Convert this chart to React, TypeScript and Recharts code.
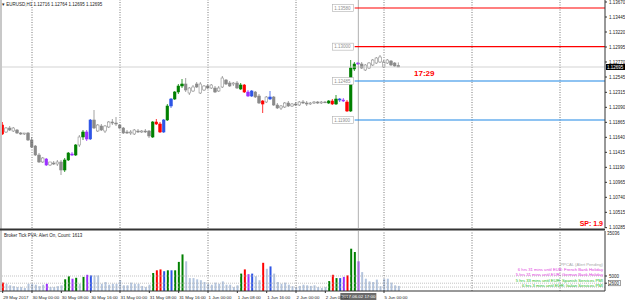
import React from "react";
import { Bar, Cell, ComposedChart, ReferenceLine, XAxis, YAxis } from "recharts";

// bar 0 = 30 May 2017 00:00 (H1), first bar is 29 May 16:00
const firstBar = -8;

const opens = [
  1.11825, 1.1172, 1.1178, 1.11735, 1.1175, 1.11705, 1.1169, 1.11705,
  1.116, 1.1151, 1.11375, 1.1127, 1.11315, 1.11225, 1.11255, 1.1124,
  1.1127, 1.1115, 1.113, 1.11375, 1.11375, 1.11525, 1.11645, 1.1172,
  1.11615, 1.119, 1.11735, 1.1181, 1.11735, 1.11795, 1.1187, 1.11855,
  1.11825, 1.1178, 1.1172, 1.11705, 1.1169, 1.11735, 1.1172, 1.11735,
  1.11735, 1.11645, 1.1187, 1.1184, 1.1172, 1.119, 1.1211, 1.12215,
  1.1232, 1.1241, 1.1244, 1.12305, 1.12335, 1.1244, 1.12305, 1.1235,
  1.1241, 1.1238, 1.1238, 1.12335, 1.12395, 1.125, 1.12455, 1.1244,
  1.12455, 1.12365, 1.12425, 1.1232, 1.1226, 1.1232, 1.1226, 1.12185,
  1.1217, 1.12215, 1.12245, 1.12125, 1.1208, 1.12095, 1.12155, 1.1211,
  1.1214, 1.12125, 1.1217, 1.12155, 1.1214, 1.12155, 1.1217, 1.12155,
  1.1217, 1.12155, 1.12185, 1.1214, 1.122, 1.122, 1.1217, 1.12035,
  1.12665, 1.1274, 1.1274, 1.1265, 1.1268, 1.12725, 1.12755, 1.1277,
  1.12695, 1.12755, 1.12785, 1.12755, 1.12716,
];
const highs = [
  1.1187, 1.11795, 1.1181, 1.11795, 1.11765, 1.1172, 1.11705, 1.1172,
  1.11645, 1.11525, 1.11405, 1.11345, 1.1133, 1.1127, 1.11285, 1.113,
  1.113, 1.1133, 1.1142, 1.1142, 1.1154, 1.11675, 1.1175, 1.1175,
  1.11915, 1.1205, 1.1184, 1.1184, 1.11825, 1.11885, 1.11915, 1.11945,
  1.1184, 1.11795, 1.1175, 1.1175, 1.11765, 1.11765, 1.1175, 1.11765,
  1.1175, 1.11885, 1.11915, 1.1187, 1.11915, 1.1214, 1.1223, 1.12335,
  1.1244, 1.12515, 1.1253, 1.12395, 1.12425, 1.1247, 1.1247, 1.12425,
  1.1244, 1.1244, 1.1241, 1.1241, 1.1256, 1.12515, 1.12485, 1.1247,
  1.12485, 1.12455, 1.1244, 1.1235, 1.1235, 1.12335, 1.1229, 1.122,
  1.1226, 1.12335, 1.1226, 1.12155, 1.12125, 1.1217, 1.12185, 1.12155,
  1.1217, 1.12185, 1.122, 1.12185, 1.1217, 1.12185, 1.12185, 1.12185,
  1.12185, 1.122, 1.12215, 1.12275, 1.1223, 1.1223, 1.122, 1.128,
  1.1277, 1.1277, 1.1277, 1.1274, 1.1277, 1.12815, 1.12845, 1.12875,
  1.128, 1.12815, 1.128, 1.1277, 1.12764,
];
const lows = [
  1.11675, 1.11705, 1.11735, 1.1172, 1.1169, 1.11675, 1.11675, 1.11585,
  1.1148, 1.1136, 1.11255, 1.11255, 1.1121, 1.1121, 1.11225, 1.1121,
  1.11075, 1.1112, 1.11285, 1.1136, 1.1136, 1.11495, 1.116, 1.11585,
  1.116, 1.11765, 1.1172, 1.11735, 1.11705, 1.1178, 1.11825, 1.1181,
  1.11765, 1.1169, 1.1169, 1.11675, 1.11675, 1.11705, 1.11705, 1.11705,
  1.1163, 1.1163, 1.11825, 1.11705, 1.11705, 1.11885, 1.1208, 1.122,
  1.1229, 1.1238, 1.1232, 1.12275, 1.1232, 1.1238, 1.1229, 1.12335,
  1.12365, 1.12365, 1.12305, 1.1232, 1.1238, 1.12425, 1.12395, 1.1241,
  1.12365, 1.1235, 1.12305, 1.12245, 1.12245, 1.1223, 1.1214, 1.12005,
  1.12155, 1.122, 1.1211, 1.12065, 1.1205, 1.1208, 1.12095, 1.12095,
  1.1211, 1.1211, 1.1214, 1.1211, 1.12125, 1.1214, 1.1214, 1.1214,
  1.12155, 1.1214, 1.12125, 1.12125, 1.1217, 1.1217, 1.1202, 1.1202,
  1.12635, 1.12725, 1.12665, 1.12635, 1.12665, 1.1271, 1.1274, 1.12755,
  1.1268, 1.1274, 1.1271, 1.12695, 1.12695,
];
const closes = [
  1.1169, 1.1178, 1.1175, 1.1178, 1.11705, 1.1169, 1.11705, 1.116,
  1.11495, 1.11375, 1.1127, 1.1133, 1.11225, 1.1127, 1.1124, 1.1127,
  1.1115, 1.113, 1.11405, 1.1139, 1.11525, 1.11645, 1.1172, 1.11615,
  1.119, 1.1178, 1.11825, 1.1175, 1.1181, 1.1187, 1.11855, 1.1184,
  1.1178, 1.11705, 1.11705, 1.1172, 1.1175, 1.1172, 1.11735, 1.1172,
  1.1166, 1.1187, 1.1184, 1.1172, 1.119, 1.1211, 1.12215, 1.1232,
  1.1241, 1.1244, 1.1235, 1.1238, 1.12395, 1.12395, 1.1244, 1.1241,
  1.1238, 1.12425, 1.1232, 1.1238, 1.1253, 1.1244, 1.1241, 1.12455,
  1.1238, 1.12425, 1.1232, 1.1226, 1.12335, 1.12245, 1.12155, 1.1214,
  1.12245, 1.12245, 1.12125, 1.1208, 1.1211, 1.12155, 1.1211, 1.1214,
  1.12125, 1.1217, 1.12155, 1.1214, 1.12155, 1.1217, 1.12155, 1.1217,
  1.1216, 1.12185, 1.1214, 1.12215, 1.12215, 1.12185, 1.12035, 1.1268,
  1.1274, 1.12755, 1.1268, 1.12725, 1.12755, 1.128, 1.1283, 1.12845,
  1.1277, 1.128, 1.12725, 1.1271, 1.12695,
];
// tick volume per bar
const volumes = [
  2800, 2400, 1900, 1600, 1300, 1300, 1000, 2400,
  2400, 2100, 1600, 2100, 2400, 1300, 1300, 1600,
  1900, 3900, 4900, 4100, 4400, 2400, 4700, 5400,
  5200, 5200, 5200, 2400, 3000, 2100, 2400, 2400,
  3600, 1900, 1900, 2800, 2400, 2400, 1700, 1300,
  2100, 6000, 6900, 7200, 6600, 6900, 6900, 6900,
  9700, 12200, 9900, 4300, 4300, 3900, 3600, 3000,
  2400, 2100, 2800, 2400, 3200, 2100, 2100, 1300,
  1900, 5800, 7200, 5600, 5800, 4900, 3600, 9400,
  7400, 8200, 5800, 3000, 2400, 2800, 2100, 1600,
  1300, 1700, 2100, 1900, 1700, 1900, 1300, 1000,
  1300, 3300, 5400, 4300, 4300, 4700, 5200, 14100,
  13000, 9900, 6300, 4100, 3200, 3000, 3800, 1600,
  4100, 4100, 2800, 1900, 1700,
];
// PVA class per bar: n normal, g climax bull, r climax bear, b rising bull, p rising bear
const pvaTags = [
  "r", "n", "n", "n", "n", "n", "n", "n",
  "n", "n", "n", "n", "p", "n", "n", "n",
  "n", "g", "g", "p", "g", "n", "g", "p",
  "b", "n", "n", "n", "n", "n", "n", "n",
  "n", "n", "n", "n", "n", "n", "n", "n",
  "n", "g", "r", "r", "b", "g", "b", "g",
  "g", "g", "n", "n", "n", "n", "n", "n",
  "n", "n", "n", "n", "n", "n", "n", "n",
  "n", "g", "r", "p", "b", "n", "n", "r",
  "n", "b", "n", "n", "n", "n", "n", "n",
  "n", "n", "n", "n", "n", "n", "n", "n",
  "n", "g", "r", "g", "b", "p", "r", "g",
  "g", "p", "n", "n", "n", "n", "n", "n",
  "n", "n", "n", "n", "n",
];

const priceTicks = [
  1.1367, 1.13445, 1.1322, 1.12995, 1.1277, 1.12545, 1.12315, 1.1209,
  1.11865, 1.1164, 1.11415, 1.1119, 1.10965, 1.1074, 1.10515, 1.10285,
];
const timeTicks = [-8, 0, 8, 16, 24, 32, 40, 48, 56, 64, 72, 80, 96];
const timeLabels = [
  "29 May 2017", "30 May 00:00", "30 May 08:00", "30 May 16:00", "31 May 00:00",
  "31 May 08:00", "31 May 16:00", "1 Jun 00:00", "1 Jun 08:00", "1 Jun 16:00",
  "2 Jun 00:00", "2 Jun 08:00", "5 Jun 00:00",
];
const dayStarts = [0, 24, 48, 72, 96, 120, 144];
const levelValues = [1.1358, 1.13, 1.12485, 1.119];
const levelLabels = ["1.13580", "1.13000", "1.12485", "1.11900"];
const volumeLevels = [5000, 2600, 1300];
const volumeTicks = [5000, 2600];
const eventLines = [
  "PPCAL  (Alert Pending)",
  "6 hrs 31 mins until EUR: French Bank Holiday",
  "5 hrs 31 mins until EUR: German Bank Holiday",
  "5 hrs 33 mins until EUR: Spanish Services PMI",
  "6 hrs 3 mins until EUR: Italian Services PMI",
];
const bidPrice = 1.12695;
const crossBar = 89;
const levelStartBar = 88;

const data = opens.map((open, k) => ({
  bar: firstBar + k,
  open,
  high: highs[k],
  low: lows[k],
  close: closes[k],
  volume: volumes[k],
  tag: pvaTags[k],
}));

const X_DOMAIN: [number, number] = [-8.73, 156.27];
const FONT = "'Liberation Sans', Arial, sans-serif";
const PVA: Record<string, string> = {
  g: "#008000",
  r: "#ff0000",
  b: "#2e55e6",
  p: "#9b30ff",
  n: "#b4c5de",
};
const LEVEL_STROKE = ["#ff0000", "#ff0000", "#1e88e5", "#1e88e5"];
const EVENT_FILL = ["#a8a8a8", "#e040e0", "#e040e0", "#22bb22", "#22bb22"];

function Candle(props: any) {
  const { x, y, width, height, payload } = props;
  if (!payload || x == null || y == null) return null;
  const top = height < 0 ? y + height : y;
  const h = Math.abs(height);
  const { open, high, low, close, tag } = payload;
  const span = high - low;
  const py = (p: number) => (span > 0 ? top + ((high - p) / span) * h : top);
  const yo = py(open);
  const yc = py(close);
  const bodyTop = Math.min(yo, yc);
  const bodyH = Math.max(Math.abs(yo - yc), 0.8);
  const cx = x + width / 2;
  const bull = close >= open;
  const colored = tag !== "n";
  const stroke = colored ? PVA[tag] : "#8a8a8a";
  const fill = colored ? PVA[tag] : bull ? "#ffffff" : "#8a8a8a";
  return (
    <g>
      <line x1={cx} x2={cx} y1={top} y2={top + h} stroke={stroke} strokeWidth={0.8} />
      <rect x={cx - 1.3} y={bodyTop} width={2.6} height={bodyH} fill={fill} stroke={stroke} strokeWidth={0.6} />
    </g>
  );
}

function PriceTick({ x, y, payload }: any) {
  return (
    <text x={x} y={y} dy={1.6} fontSize={4.5} fill="#222" fontFamily={FONT} textAnchor="start">
      {payload.value.toFixed(5)}
    </text>
  );
}

function TimeTick({ x, y, payload, index }: any) {
  return (
    <text x={x + 0.5} y={y} dy={3.5} fontSize={4.4} fill="#222" fontFamily={FONT} textAnchor="start">
      {timeLabels[index] ?? payload.value}
    </text>
  );
}

function VolumeTick({ x, y, payload }: any) {
  const boxed = payload.value !== 5000;
  return (
    <g>
      {boxed && <rect x={x - 0.5} y={y - 2.6} width={12} height={5.2} fill="#fff" stroke="#444" strokeWidth={0.5} />}
      <text x={x} y={y} dy={1.6} fontSize={4.5} fill="#222" fontFamily={FONT} textAnchor="start">
        {payload.value}
      </text>
    </g>
  );
}

function BidTag({ viewBox }: any) {
  const right = viewBox.x + viewBox.width;
  return (
    <g>
      <rect x={right + 1} y={viewBox.y - 3} width={19} height={6} fill="#000" />
      <text x={right + 2} y={viewBox.y + 1.6} fontSize={4.5} fill="#fff" fontFamily={FONT}>
        {bidPrice.toFixed(5)}
      </text>
    </g>
  );
}

function levelTag(text: string) {
  return function LevelTag({ viewBox }: any) {
    const x0 = viewBox.x;
    const y0 = viewBox.y;
    return (
      <g>
        <rect x={x0 - 22} y={y0 - 3.5} width={21} height={7} fill="#fff" stroke="#b0b0b0" strokeWidth={0.6} />
        <text x={x0 - 20.5} y={y0 + 1.6} fontSize={4.5} fill="#909090" fontFamily={FONT}>
          {text}
        </text>
      </g>
    );
  };
}

function CrossTimeTag({ viewBox }: any) {
  const bottom = viewBox.y + viewBox.height;
  return (
    <g>
      <rect x={viewBox.x - 18} y={bottom + 2} width={36} height={7} fill="#6a6a6a" />
      <text x={viewBox.x} y={bottom + 7.2} fontSize={4.4} fill="#fff" fontFamily={FONT} textAnchor="middle">
        2017.06.02 17:00
      </text>
    </g>
  );
}

export default function App() {
  return (
    <div style={{ position: "fixed", left: 0, top: 0, width: 625, height: 302, background: "#fff", overflow: "hidden" }}>
      <div style={{ position: "absolute", left: 0, top: 0 }}>
        <ComposedChart width={625} height={230} data={data} margin={{ top: 0, right: 0, bottom: 2, left: 0 }}>
          <XAxis dataKey="bar" type="number" domain={X_DOMAIN} allowDataOverflow hide />
          <YAxis
            orientation="right"
            domain={[1.1028, 1.137]}
            allowDataOverflow
            ticks={priceTicks}
            interval={0}
            width={20}
            tickSize={2}
            axisLine={{ stroke: "#333" }}
            tickLine={{ stroke: "#333" }}
            tick={(p: any) => <PriceTick {...p} />}
          />
          {dayStarts.map((d) => (
            <ReferenceLine key={d} x={d} stroke="#555" strokeDasharray="1 1.5" strokeWidth={0.8} />
          ))}
          <ReferenceLine y={bidPrice} stroke="#c8c8c8" strokeWidth={0.8} label={(p: any) => <BidTag {...p} />} />
          <ReferenceLine x={crossBar} stroke="#9a9a9a" strokeWidth={0.8} />
          {levelValues.map((v, k) => {
            const Tag = levelTag(levelLabels[k]);
            return (
              <ReferenceLine
                key={v}
                segment={[{ x: levelStartBar, y: v }, { x: X_DOMAIN[1], y: v }]}
                stroke={LEVEL_STROKE[k]}
                strokeWidth={1.2}
                label={(p: any) => <Tag {...p} />}
              />
            );
          })}
          <Bar
            dataKey={(d: any) => [d.low, d.high]}
            barSize={3}
            isAnimationActive={false}
            shape={(p: any) => <Candle {...p} />}
          />
        </ComposedChart>
      </div>

      <div style={{ position: "absolute", left: 0, top: 229 }}>
        <ComposedChart width={625} height={73} data={data} margin={{ top: 2, right: 0, bottom: 0, left: 0 }}>
          <XAxis
            dataKey="bar"
            type="number"
            domain={X_DOMAIN}
            allowDataOverflow
            ticks={timeTicks}
            interval={0}
            height={11}
            tickSize={2}
            axisLine={{ stroke: "#333" }}
            tickLine={{ stroke: "#333" }}
            tick={(p: any) => <TimeTick {...p} />}
          />
          <YAxis
            orientation="right"
            domain={[0, 20000]}
            allowDataOverflow
            ticks={volumeTicks}
            interval={0}
            width={20}
            tickSize={2}
            axisLine={{ stroke: "#333" }}
            tickLine={{ stroke: "#333" }}
            tick={(p: any) => <VolumeTick {...p} />}
          />
          {volumeLevels.map((v) => (
            <ReferenceLine key={v} y={v} stroke="#aaa" strokeDasharray="1 1" strokeWidth={0.7} />
          ))}
          {dayStarts.map((d) => (
            <ReferenceLine key={d} x={d} stroke="#555" strokeDasharray="1 1.5" strokeWidth={0.8} />
          ))}
          <ReferenceLine x={crossBar} stroke="#9a9a9a" strokeWidth={0.8} label={(p: any) => <CrossTimeTag {...p} />} />
          <Bar dataKey="volume" barSize={2} isAnimationActive={false}>
            {data.map((d) => (
              <Cell key={d.bar} fill={PVA[d.tag]} />
            ))}
          </Bar>
        </ComposedChart>
      </div>

      <svg width={625} height={302} style={{ position: "absolute", left: 0, top: 0, pointerEvents: "none" }}>
        <rect x={0} y={0} width={2} height={291} fill="#c8c8c8" />
        <line x1={0} x2={605} y1={229.5} y2={229.5} stroke="#333" strokeWidth={2} />
        <text x={2} y={5.5} fontSize={4.5} fill="#222" fontFamily={FONT}>
          ▾ EURUSD,H1  1.12716 1.12764 1.12695 1.12695
        </text>
        <text x={414} y={76} fontSize={8} fontWeight="bold" fill="#ff0000" fontFamily={FONT}>
          17:29
        </text>
        <text x={603} y={226} fontSize={7} fontWeight="bold" fill="#ff0000" fontFamily={FONT} textAnchor="end">
          SP: 1.9
        </text>
        <text x={4} y={237} fontSize={4.5} fill="#222" fontFamily={FONT}>
          Broker Tick PVA:   Alert On,   Count: 1613
        </text>
        <text x={607} y={235} fontSize={4.5} fill="#222" fontFamily={FONT}>
          35036
        </text>
        {eventLines.map((t, k) => (
          <text key={t} x={603} y={266 + k * 5.2} fontSize={4.2} fill={EVENT_FILL[k]} fontFamily={FONT} textAnchor="end">
            {t}
          </text>
        ))}
      </svg>
    </div>
  );
}
